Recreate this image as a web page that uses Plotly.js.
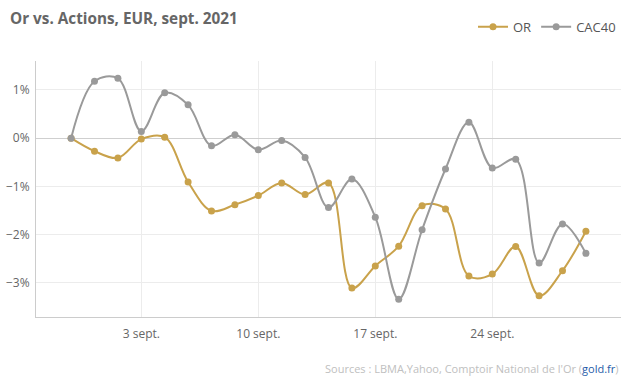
<!DOCTYPE html>
<html>
<head>
<meta charset="utf-8">
<script src="https://cdn.plot.ly/plotly-3.0.1.min.js"></script>
<style>html,body{margin:0;padding:0;background:#fff;}#chart{width:636px;height:382px;}</style>
</head>
<body>
<div id="chart"></div>
<script>
// Trading days (ordinal axis): 31 Aug 2021 .. 30 Sept 2021
const days = ["31 août","1 sept.","2 sept.","3 sept.","6 sept.","7 sept.","8 sept.","9 sept.","10 sept.","13 sept.","14 sept.","15 sept.","16 sept.","17 sept.","20 sept.","21 sept.","22 sept.","23 sept.","24 sept.","27 sept.","28 sept.","29 sept.","30 sept."];
const orValues = [0, -0.27, -0.41, -0.02, 0.02, -0.91, -1.51, -1.38, -1.19, -0.93, -1.17, -0.93, -3.11, -2.65, -2.24, -1.40, -1.47, -2.86, -2.82, -2.25, -3.27, -2.75, -1.93];
const cacValues = [0, 1.18, 1.24, 0.14, 0.94, 0.69, -0.16, 0.07, -0.24, -0.05, -0.40, -1.44, -0.85, -1.64, -3.34, -1.90, -0.64, 0.33, -0.62, -0.44, -2.59, -1.78, -2.39];
const tickDays = ["3 sept.", "10 sept.", "17 sept.", "24 sept."];
const yTicks = [-3, -2, -1, 0, 1];
const yTickLabels = ["−3%", "−2%", "−1%", "0%", "1%"];

const idx = days.map((d, i) => i);
const tickvals = tickDays.map(t => days.indexOf(t));

const gold = '#c9a24b';
const grey = '#9a9a9a';

const traces = [
  {x: idx, y: orValues, name: 'OR', type: 'scatter', mode: 'lines+markers',
   line: {color: gold, width: 2, shape: 'spline', smoothing: 1}, marker: {color: gold, size: 7},
   text: days, hoverinfo: 'text+y'},
  {x: idx, y: cacValues, name: 'CAC40', type: 'scatter', mode: 'lines+markers',
   line: {color: grey, width: 2, shape: 'spline', smoothing: 1}, marker: {color: grey, size: 7},
   text: days, hoverinfo: 'text+y'}
];

const layout = {
  width: 636, height: 382,
  margin: {l: 36, r: 15, t: 57, b: 65},
  paper_bgcolor: '#fff', plot_bgcolor: '#fff',
  font: {family: '"Open Sans", sans-serif', size: 12, color: '#666'},
  title: {text: 'Or vs. Actions, EUR, sept. 2021', x: 0, xref: 'container', xanchor: 'left', y: 1, yref: 'container', yanchor: 'top', pad: {t: 13, l: 10},
          font: {family: '"Open Sans", sans-serif', size: 15.3, color: '#666', weight: 'bold'}},
  showlegend: true,
  legend: {orientation: 'h', x: 1, xanchor: 'right', y: 1.075, yanchor: 'bottom', font: {size: 13, color: '#555'}, itemwidth: 30, traceorder: 'normal'},
  xaxis: {range: [-1.5, 23.5], tickvals: tickvals, ticktext: tickDays, showgrid: true, gridcolor: '#ececec', zeroline: false,
          showline: true, linecolor: '#ccc', linewidth: 1, ticks: 'outside', ticklen: 6, tickcolor: 'rgba(0,0,0,0)',
          tickfont: {size: 12, color: '#666'}, fixedrange: true},
  yaxis: {range: [-3.71, 1.6], tickvals: yTicks, ticktext: yTickLabels, showgrid: true, gridcolor: '#ececec',
          zeroline: true, zerolinecolor: '#cfcfcf', zerolinewidth: 1, showline: true, linecolor: '#ccc', linewidth: 1,
          ticks: 'outside', ticklen: 3, tickcolor: 'rgba(0,0,0,0)', tickfont: {size: 12, color: '#666'}, fixedrange: true},
  annotations: [{
    text: 'Sources : LBMA,Yahoo, Comptoir National de l\'Or (<span style="color:#1f5ca8">gold.fr</span>)',
    xref: 'paper', yref: 'paper', x: 1, xanchor: 'right', y: -0.2, yanchor: 'middle', showarrow: false,
    font: {size: 11, color: '#c0c0c0'}
  }]
};

Plotly.newPlot('chart', traces, layout, {displayModeBar: false, staticPlot: true});
</script>
</body>
</html>
